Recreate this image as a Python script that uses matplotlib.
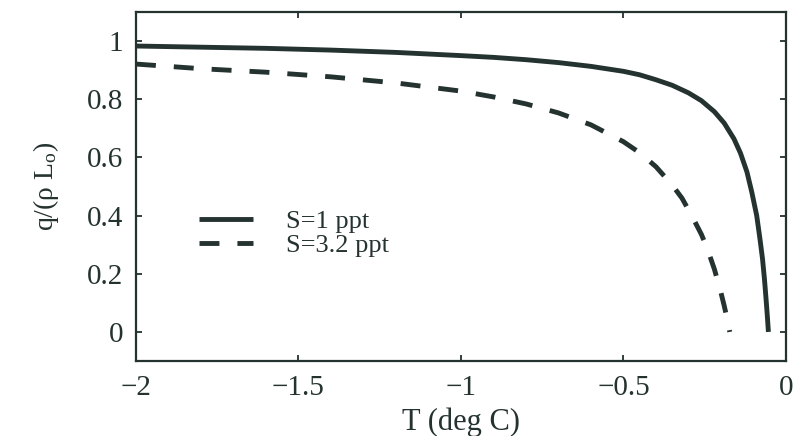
import matplotlib
matplotlib.use('Agg')
import matplotlib.pyplot as plt

# valores (T em graus C, q/(rho L0))
t_s1 = [-2.0, -1.8, -1.6, -1.4, -1.2, -1.0, -0.9, -0.8, -0.7, -0.6, -0.5, -0.45,
        -0.4, -0.35, -0.3, -0.26, -0.22, -0.19, -0.16, -0.14, -0.12, -0.105,
        -0.09, -0.08, -0.072, -0.066, -0.061, -0.057, -0.054]
q_s1 = [0.983, 0.979, 0.975, 0.969, 0.961, 0.950, 0.944, 0.936, 0.926, 0.913,
        0.896, 0.884, 0.867, 0.848, 0.822, 0.795, 0.757, 0.718, 0.664, 0.615,
        0.55, 0.48, 0.40, 0.32, 0.25, 0.18, 0.11, 0.05, 0.0]

t_s32 = [-2.0, -1.8, -1.6, -1.4, -1.2, -1.0, -0.9, -0.8, -0.7, -0.6, -0.5, -0.45,
         -0.4, -0.35, -0.32, -0.29, -0.26, -0.24, -0.22, -0.2, -0.19, -0.18, -0.173]
q_s32 = [0.921, 0.905, 0.893, 0.877, 0.856, 0.828, 0.808, 0.784, 0.753, 0.712,
         0.654, 0.616, 0.568, 0.505, 0.46, 0.40, 0.335, 0.28, 0.215, 0.135,
         0.09, 0.04, 0.0]

labels = ['S=1 ppt', 'S=3.2 ppt']
x_ticks = [-2, -1.5, -1, -0.5, 0]
x_tick_labels = ['\u22122', '\u22121.5', '\u22121', '\u22120.5', '0']
y_ticks = [0, 0.2, 0.4, 0.6, 0.8, 1]
y_tick_labels = ['0', '0.2', '0.4', '0.6', '0.8', '1']

cor = '#243230'
plt.rcParams['font.family'] = ['Liberation Serif', 'DejaVu Serif']
plt.rcParams['mathtext.fontset'] = 'custom'
plt.rcParams['mathtext.rm'] = 'Liberation Serif'
plt.rcParams['mathtext.it'] = 'Liberation Serif:italic'

fig = plt.figure(figsize=(7.98, 4.36), dpi=100)
ax = fig.add_axes([0.1704, 0.172, 0.8145, 0.8005])

ax.plot(t_s1, q_s1, color=cor, linewidth=3.5, solid_capstyle='butt', label=labels[0])
ax.plot(t_s32, q_s32, color=cor, linewidth=3.5, dashes=(4.1, 3.7),
        dash_capstyle='butt', label=labels[1])

ax.set_xlim(-2, 0)
ax.set_ylim(-0.1, 1.1)
ax.set_xticks(x_ticks)
ax.set_xticklabels(x_tick_labels)
ax.set_yticks(y_ticks)
ax.set_yticklabels(y_tick_labels)
ax.tick_params(direction='in', length=4.5, width=1.3, color=cor, labelsize=21,
               labelcolor=cor, top=True, right=True)
ax.tick_params(axis='x', pad=10)
ax.tick_params(axis='y', pad=9)
for s in ax.spines.values():
    s.set_linewidth(1.6)
    s.set_color(cor)

ax.set_xlabel('T (deg C)', fontsize=22, color=cor, labelpad=5)
ax.set_ylabel('q/(\u03c1 L$_\\mathrm{o}$)', fontsize=20, color=cor, labelpad=19)

leg = ax.legend(loc='center left', bbox_to_anchor=(0.06, 0.366), frameon=False,
                fontsize=19, handlelength=2.05, handletextpad=1.25, labelspacing=0.0)
for t in leg.get_texts():
    t.set_color(cor)

plt.savefig('out.png', dpi=100)
